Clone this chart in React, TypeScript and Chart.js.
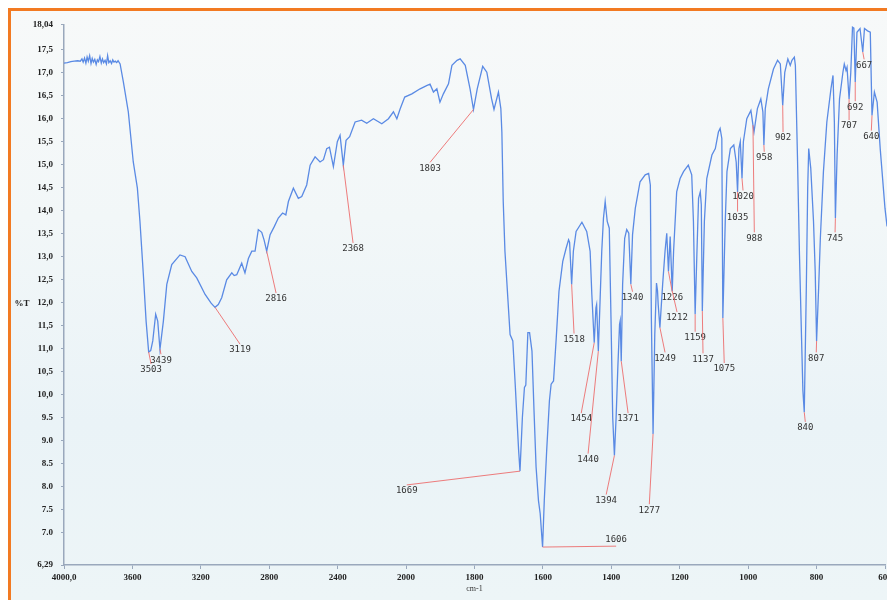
import React, { useEffect, useRef } from 'react';
import { Chart, LinearScale, registerables } from 'chart.js';

Chart.register(...registerables);

// ---- axis ticks ----
const X_TICKS = [4000, 3600, 3200, 2800, 2400, 2000, 1800, 1600, 1400, 1200, 1000, 800, 600];
const X_TICK_LABELS = ['4000,0', '3600', '3200', '2800', '2400', '2000', '1800', '1600', '1400', '1200', '1000', '800', '600'];
const Y_TICKS = [6.29, 7.0, 7.5, 8.0, 8.5, 9.0, 9.5, 10.0, 10.5, 11.0, 11.5, 12.0, 12.5, 13.0, 13.5, 14.0, 14.5, 15.0, 15.5, 16.0, 16.5, 17.0, 17.5, 18.04];
const Y_TICK_LABELS = ['6,29', '7.0', '7.5', '8.0', '8.5', '9.0', '9.5', '10,0', '10,5', '11,0', '11,5', '12,0', '12,5', '13,0', '13,5', '14,0', '14,5', '15,0', '15,5', '16,0', '16,5', '17,0', '17,5', '18,04'];

// ---- spectrum (wavenumber cm-1, %T) ----
const WAVENUMBERS = [
  4000, 3980, 3960, 3940, 3920, 3905, 3895, 3888, 3880, 3872, 3865, 3858, 3850, 3842, 3835, 3828, 3820, 3812, 3805, 3798,
  3790, 3782, 3775, 3768, 3760, 3752, 3745, 3738, 3730, 3722, 3715, 3708, 3700, 3692, 3684, 3672, 3653, 3624, 3595, 3571,
  3556, 3536, 3520, 3505, 3493, 3481, 3464, 3452, 3439, 3419, 3399, 3370, 3322, 3292, 3253, 3224, 3175, 3140, 3117, 3098,
  3078, 3049, 3019, 3005, 2990, 2961, 2942, 2922, 2902, 2883, 2864, 2844, 2830, 2815, 2795, 2770, 2747, 2722, 2703, 2688,
  2659, 2630, 2610, 2581, 2561, 2532, 2503, 2483, 2464, 2448, 2425, 2402, 2386, 2367, 2351, 2330, 2298, 2260, 2230, 2191,
  2142, 2103, 2074, 2054, 2035, 2008, 1983, 1959, 1940, 1930, 1920, 1910, 1901, 1891, 1876, 1866, 1851, 1842, 1827, 1813,
  1803, 1792, 1776, 1764, 1750, 1743, 1730, 1723, 1720, 1716, 1711, 1696, 1688, 1681, 1671, 1667, 1660, 1654, 1650, 1644,
  1639, 1632, 1626, 1620, 1613, 1608, 1601, 1596, 1589, 1581, 1576, 1569, 1561, 1553, 1542, 1532, 1525, 1522, 1516, 1511,
  1503, 1486, 1472, 1462, 1457, 1450, 1445, 1443, 1438, 1433, 1428, 1423, 1418, 1412, 1406, 1401, 1396, 1391, 1386, 1381,
  1376, 1374, 1371, 1367, 1361, 1355, 1349, 1343, 1338, 1330, 1316, 1301, 1291, 1286, 1283, 1278, 1273, 1268, 1265, 1263,
  1258, 1250, 1243, 1238, 1233, 1228, 1222, 1218, 1209, 1199, 1189, 1175, 1165, 1160, 1155, 1150, 1145, 1140, 1137, 1134,
  1128, 1121, 1106, 1096, 1087, 1082, 1077, 1074, 1067, 1062, 1052, 1042, 1035, 1031, 1027, 1023, 1018, 1014, 1004, 992,
  986, 983, 973, 963, 957, 954, 950, 941, 926, 914, 906, 899, 893, 884, 877, 872, 865, 862, 856, 850,
  844, 840, 836, 830, 826, 823, 817, 809, 804, 800, 794, 789, 780, 770, 758, 752, 748, 745, 740, 733,
  723, 719, 714, 711, 705, 700, 695, 691, 687, 682, 673, 665, 660, 651, 643, 638, 631, 623, 614, 600,
  594,
];
const TRANSMITTANCE = [
  17.20, 17.21, 17.23, 17.24, 17.25, 17.24, 17.29, 17.22, 17.31, 17.20, 17.33, 17.24, 17.36, 17.19, 17.30, 17.22, 17.28, 17.17, 17.27, 17.23,
  17.34, 17.20, 17.29, 17.21, 17.26, 17.18, 17.36, 17.21, 17.25, 17.19, 17.27, 17.22, 17.24, 17.21, 17.25, 17.18, 16.79, 16.14, 15.05, 14.48,
  13.76, 12.60, 11.59, 10.92, 10.95, 11.16, 11.74, 11.59, 10.98, 11.59, 12.39, 12.82, 13.03, 12.99, 12.67, 12.53, 12.17, 11.98, 11.89, 11.95,
  12.10, 12.49, 12.64, 12.58, 12.60, 12.85, 12.64, 12.95, 13.11, 13.11, 13.58, 13.52, 13.35, 13.11, 13.47, 13.65, 13.83, 13.94, 13.90, 14.19,
  14.48, 14.26, 14.30, 14.55, 14.98, 15.16, 15.05, 15.10, 15.34, 15.37, 14.95, 15.49, 15.63, 14.98, 15.52, 15.60, 15.92, 15.96, 15.89, 15.99,
  15.88, 15.99, 16.14, 15.99, 16.20, 16.46, 16.53, 16.64, 16.71, 16.74, 16.57, 16.64, 16.35, 16.53, 16.75, 17.15, 17.26, 17.29, 17.15, 16.64,
  16.19, 16.64, 17.13, 17.00, 16.42, 16.19, 16.57, 16.21, 15.70, 14.19, 13.11, 11.30, 11.16, 10.22, 8.78, 8.33, 9.50, 10.15, 10.20, 11.34,
  11.34, 10.94, 9.64, 8.42, 7.69, 7.41, 6.68, 7.69, 8.78, 9.86, 10.22, 10.29, 11.23, 12.24, 12.89, 13.18, 13.36, 13.30, 12.39, 13.11,
  13.54, 13.74, 13.54, 13.11, 12.17, 11.12, 11.88, 11.95, 10.94, 12.02, 13.11, 13.83, 14.19, 13.76, 13.61, 11.66, 9.50, 8.67, 9.50, 10.58,
  11.52, 11.60, 10.72, 12.39, 13.39, 13.58, 13.50, 12.39, 13.47, 14.04, 14.62, 14.77, 14.80, 14.55, 11.66, 9.14, 11.30, 12.42, 12.25, 11.95,
  11.45, 12.39, 13.11, 13.50, 12.67, 13.43, 12.24, 13.11, 14.40, 14.69, 14.84, 14.98, 14.77, 13.76, 11.74, 13.03, 14.26, 14.40, 14.12, 11.81,
  13.76, 14.69, 15.20, 15.34, 15.70, 15.78, 15.56, 11.66, 13.76, 14.84, 15.34, 15.42, 15.05, 14.40, 15.34, 15.49, 14.69, 15.49, 15.99, 16.17,
  15.85, 15.70, 16.21, 16.42, 16.14, 15.42, 16.21, 16.64, 17.07, 17.26, 17.18, 16.28, 17.00, 17.29, 17.15, 17.26, 17.33, 17.15, 15.20, 13.03,
  11.23, 10.08, 9.61, 12.31, 14.48, 15.34, 14.91, 13.76, 12.67, 11.16, 12.31, 13.39, 14.84, 15.92, 16.64, 16.93, 15.92, 13.83, 15.20, 16.42,
  17.00, 17.18, 17.04, 17.11, 16.42, 17.00, 17.98, 17.96, 16.79, 17.87, 17.95, 17.44, 17.95, 17.90, 17.87, 16.06, 16.57, 16.35, 15.34, 14.04,
  13.65,
];

// ---- peak annotations ----
const PEAK_LABELS = ['3503', '3439', '3119', '2816', '2368', '1803', '1669', '1606', '1518', '1454', '1440', '1394', '1371', '1340', '1277', '1249', '1226', '1212', '1159', '1137', '1075', '1035', '1020', '988', '958', '902', '840', '807', '745', '707', '692', '667', '640'];
const PEAK_WN = [3505, 3439, 3117, 2815, 2367, 1803, 1667, 1601, 1516, 1450, 1438, 1391, 1371, 1343, 1278, 1258, 1233, 1222, 1155, 1134, 1074, 1031, 1018, 986, 954, 899, 836, 800, 745, 705, 687, 665, 638];
const LABEL_WN = [3491, 3433, 2971, 2760, 2310, 1930, 1998, 1386, 1509, 1488, 1468, 1415, 1351, 1338, 1289, 1243, 1222, 1208, 1155, 1132, 1070, 1031, 1015, 982, 953, 898, 833, 801, 746, 705, 687, 661, 640];
const LABEL_T = [10.53, 10.74, 10.96, 12.07, 13.16, 14.91, 7.90, 6.83, 11.19, 9.46, 8.58, 7.69, 9.46, 12.10, 7.48, 10.78, 12.10, 11.66, 11.23, 10.76, 10.55, 13.84, 14.30, 13.39, 15.14, 15.57, 9.27, 10.78, 13.39, 15.83, 16.24, 17.15, 15.60];
const LABEL_ANCHOR = ['top', 'top', 'top', 'top', 'top', 'top', 'top', 'bottom', 'top', 'top', 'top', 'top', 'top', 'top', 'top', 'top', 'top', 'top', 'top', 'top', 'top', 'top', 'top', 'top', 'top', 'top', 'top', 'top', 'top', 'top', 'top', 'top', 'top'];

// IR wavenumber axis: 400 cm-1 per division above 2000, 200 cm-1 per division below.
function wnToDecimal(wn: number) {
  const u = wn >= 2000 ? (4000 - wn) / 400 : 5 + (2000 - wn) / 200;
  return u / 12;
}
function decimalToWn(d: number) {
  const u = d * 12;
  return u <= 5 ? 4000 - u * 400 : 2000 - (u - 5) * 200;
}

class IRScale extends LinearScale {
  static id = 'irwavenumber';
  static defaults = {};
  determineDataLimits() {
    (this as any).min = 600;
    (this as any).max = 4000;
  }
  buildTicks() {
    return X_TICKS.map((v) => ({ value: v })) as any;
  }
  getPixelForValue(value: number) {
    return this.getPixelForDecimal(wnToDecimal(value));
  }
  getValueForPixel(pixel: number) {
    return decimalToWn(this.getDecimalForPixel(pixel));
  }
}
Chart.register(IRScale as any);

const peakPlugin = {
  id: 'peakLabels',
  afterDatasetsDraw(chart: any) {
    const { ctx, scales, chartArea } = chart;
    const xs = scales.x;
    const ys = scales.y;
    ctx.save();
    ctx.font = '9px "DejaVu Sans Mono", monospace';
    ctx.textAlign = 'center';
    ctx.textBaseline = 'middle';
    PEAK_LABELS.forEach((text, i) => {
      const idx = WAVENUMBERS.indexOf(PEAK_WN[i]);
      const px = xs.getPixelForValue(PEAK_WN[i]);
      const py = ys.getPixelForValue(TRANSMITTANCE[idx]);
      const lx = xs.getPixelForValue(LABEL_WN[i]);
      const ly = ys.getPixelForValue(LABEL_T[i]);
      const ey = LABEL_ANCHOR[i] === 'top' ? ly - 6 : ly + 6;
      ctx.strokeStyle = 'rgba(236,110,110,0.9)';
      ctx.lineWidth = 1;
      ctx.beginPath();
      ctx.moveTo(px, py);
      ctx.lineTo(lx, ey);
      ctx.stroke();
      ctx.fillStyle = '#333';
      ctx.fillText(text, lx, ly);
    });
    // y axis caption, written horizontally
    ctx.font = 'bold 9px "Liberation Serif", serif';
    ctx.fillStyle = '#222';
    ctx.textAlign = 'center';
    ctx.fillText('%T', chartArea.left - 42, (chartArea.top + chartArea.bottom) / 2 + 9);
    ctx.restore();
  },
};

export default function App() {
  const ref = useRef<HTMLCanvasElement | null>(null);
  useEffect(() => {
    if (!ref.current) return;
    const chart = new Chart(ref.current, {
      type: 'line',
      data: {
        datasets: [
          {
            data: WAVENUMBERS.map((w, i) => ({ x: w, y: TRANSMITTANCE[i] })),
            borderColor: '#5a8ae4',
            borderWidth: 1.3,
            pointRadius: 0,
            tension: 0,
            fill: false,
            clip: false as any,
          },
        ],
      },
      options: {
        animation: false,
        responsive: false,
        events: [],
        layout: { padding: { left: 0, right: 16, top: 11, bottom: 0 } },
        plugins: { legend: { display: false }, tooltip: { enabled: false } },
        scales: {
          x: {
            type: 'irwavenumber' as any,
            min: 600,
            max: 4000,
            afterFit: (s: any) => {
              s.height = 35;
            },
            grid: { display: true, drawOnChartArea: false, drawTicks: true, tickLength: 4, color: '#9aa8bc' },
            border: { display: true, color: '#9aa8bc', width: 1.5 },
            ticks: {
              autoSkip: false,
              maxRotation: 0,
              minRotation: 0,
              padding: 3,
              color: '#222',
              font: { family: '"Liberation Serif", serif', size: 9, weight: 'bold' },
              callback: (_v: any, i: number) => X_TICK_LABELS[i],
            },
            title: {
              display: true,
              text: 'cm-1',
              color: '#333',
              font: { family: '"Liberation Serif", serif', size: 8 },
              padding: { top: 0, bottom: 6 },
            },
          } as any,
          y: {
            type: 'linear',
            min: 6.29,
            max: 18.04,
            afterFit: (s: any) => {
              s.width = 53;
            },
            afterBuildTicks: (s: any) => {
              s.ticks = Y_TICKS.map((v) => ({ value: v }));
            },
            grid: { display: true, drawOnChartArea: false, drawTicks: true, tickLength: 3, color: '#9aa8bc' },
            border: { display: true, color: '#9aa8bc', width: 1.5 },
            ticks: {
              autoSkip: false,
              padding: 8,
              color: '#222',
              font: { family: '"Liberation Serif", serif', size: 9, weight: 'bold' },
              callback: (_v: any, i: number) => Y_TICK_LABELS[i],
            },
          },
        },
      },
      plugins: [peakPlugin],
    });
    return () => chart.destroy();
  }, []);

  return (
    <div
      style={{
        position: 'fixed',
        left: 8,
        top: 8,
        width: 879,
        height: 592,
        boxSizing: 'border-box',
        borderTop: '3px solid #f27a22',
        borderLeft: '3px solid #f27a22',
        overflow: 'hidden',
        background: 'linear-gradient(180deg, #f7f9f9 0%, #f2f7f8 35%, #eaf3f7 70%, #edf5f7 100%)',
      }}
    >
      <canvas ref={ref} width={890} height={589} style={{ position: 'absolute', left: 0, top: 0, display: 'block' }} />
    </div>
  );
}
